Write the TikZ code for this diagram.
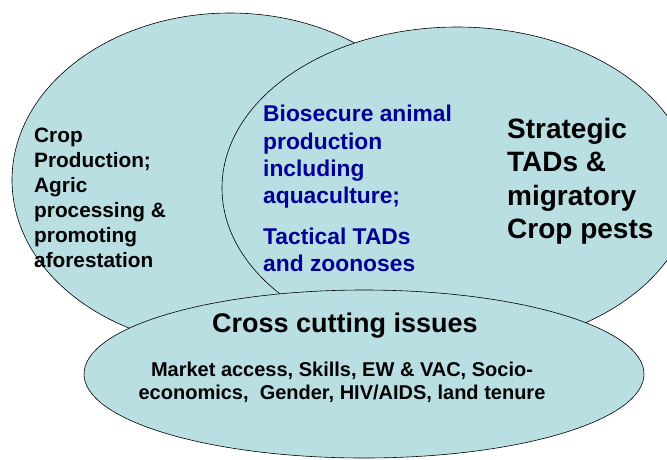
\documentclass[tikz,border=0pt]{standalone}
\usepackage{fontspec}
\setmainfont{Liberation Sans}
\usetikzlibrary{shapes.geometric}
\definecolor{vennfill}{RGB}{185,223,227}
\definecolor{tacblue}{RGB}{0,0,150}
\begin{document}
\begin{tikzpicture}[x=1pt, y=-1pt, area/.style={ellipse, draw, fill=vennfill, line width=0.6pt, inner sep=0pt}, txt/.style={inner sep=0pt, anchor=north west, align=left}]
  \useasboundingbox (0,0) rectangle (667,459);
  \node[area, minimum width=436pt, minimum height=334pt] (crop) at (230,180) {};
  \node[area, minimum width=470pt, minimum height=322pt] (animal) at (457,188) {};
  \node[area, minimum width=560pt, minimum height=168pt] (cross) at (364,374) {};
  \node[txt, font=\bfseries\fontsize{20.8}{25}\selectfont] (croptext) at (34,128)
    {Crop\\Production;\\Agric\\processing \&\\promoting\\aforestation};
  \node[txt, text=tacblue, font=\bfseries\fontsize{22.8}{27.4}\selectfont] (animaltext) at (263,105)
    {Biosecure animal\\production\\including\\aquaculture;\\[13pt]Tactical TADs\\and zoonoses};
  \node[txt, font=\bfseries\fontsize{28}{33.3}\selectfont] (pesttext) at (507,118)
    {Strategic\\TADs \&\\migratory\\Crop pests};
  \node[txt, anchor=north, align=center, font=\bfseries\fontsize{27}{32}\selectfont] (crosstitle) at (345,313)
    {Cross cutting issues};
  \node[txt, anchor=north, align=center, font=\bfseries\fontsize{20}{23}\selectfont] (crosstext) at (342,362)
    {Market access, Skills, EW \& VAC, Socio-\\economics,\ \ Gender, HIV/AIDS, land tenure};
\end{tikzpicture}
\end{document}
